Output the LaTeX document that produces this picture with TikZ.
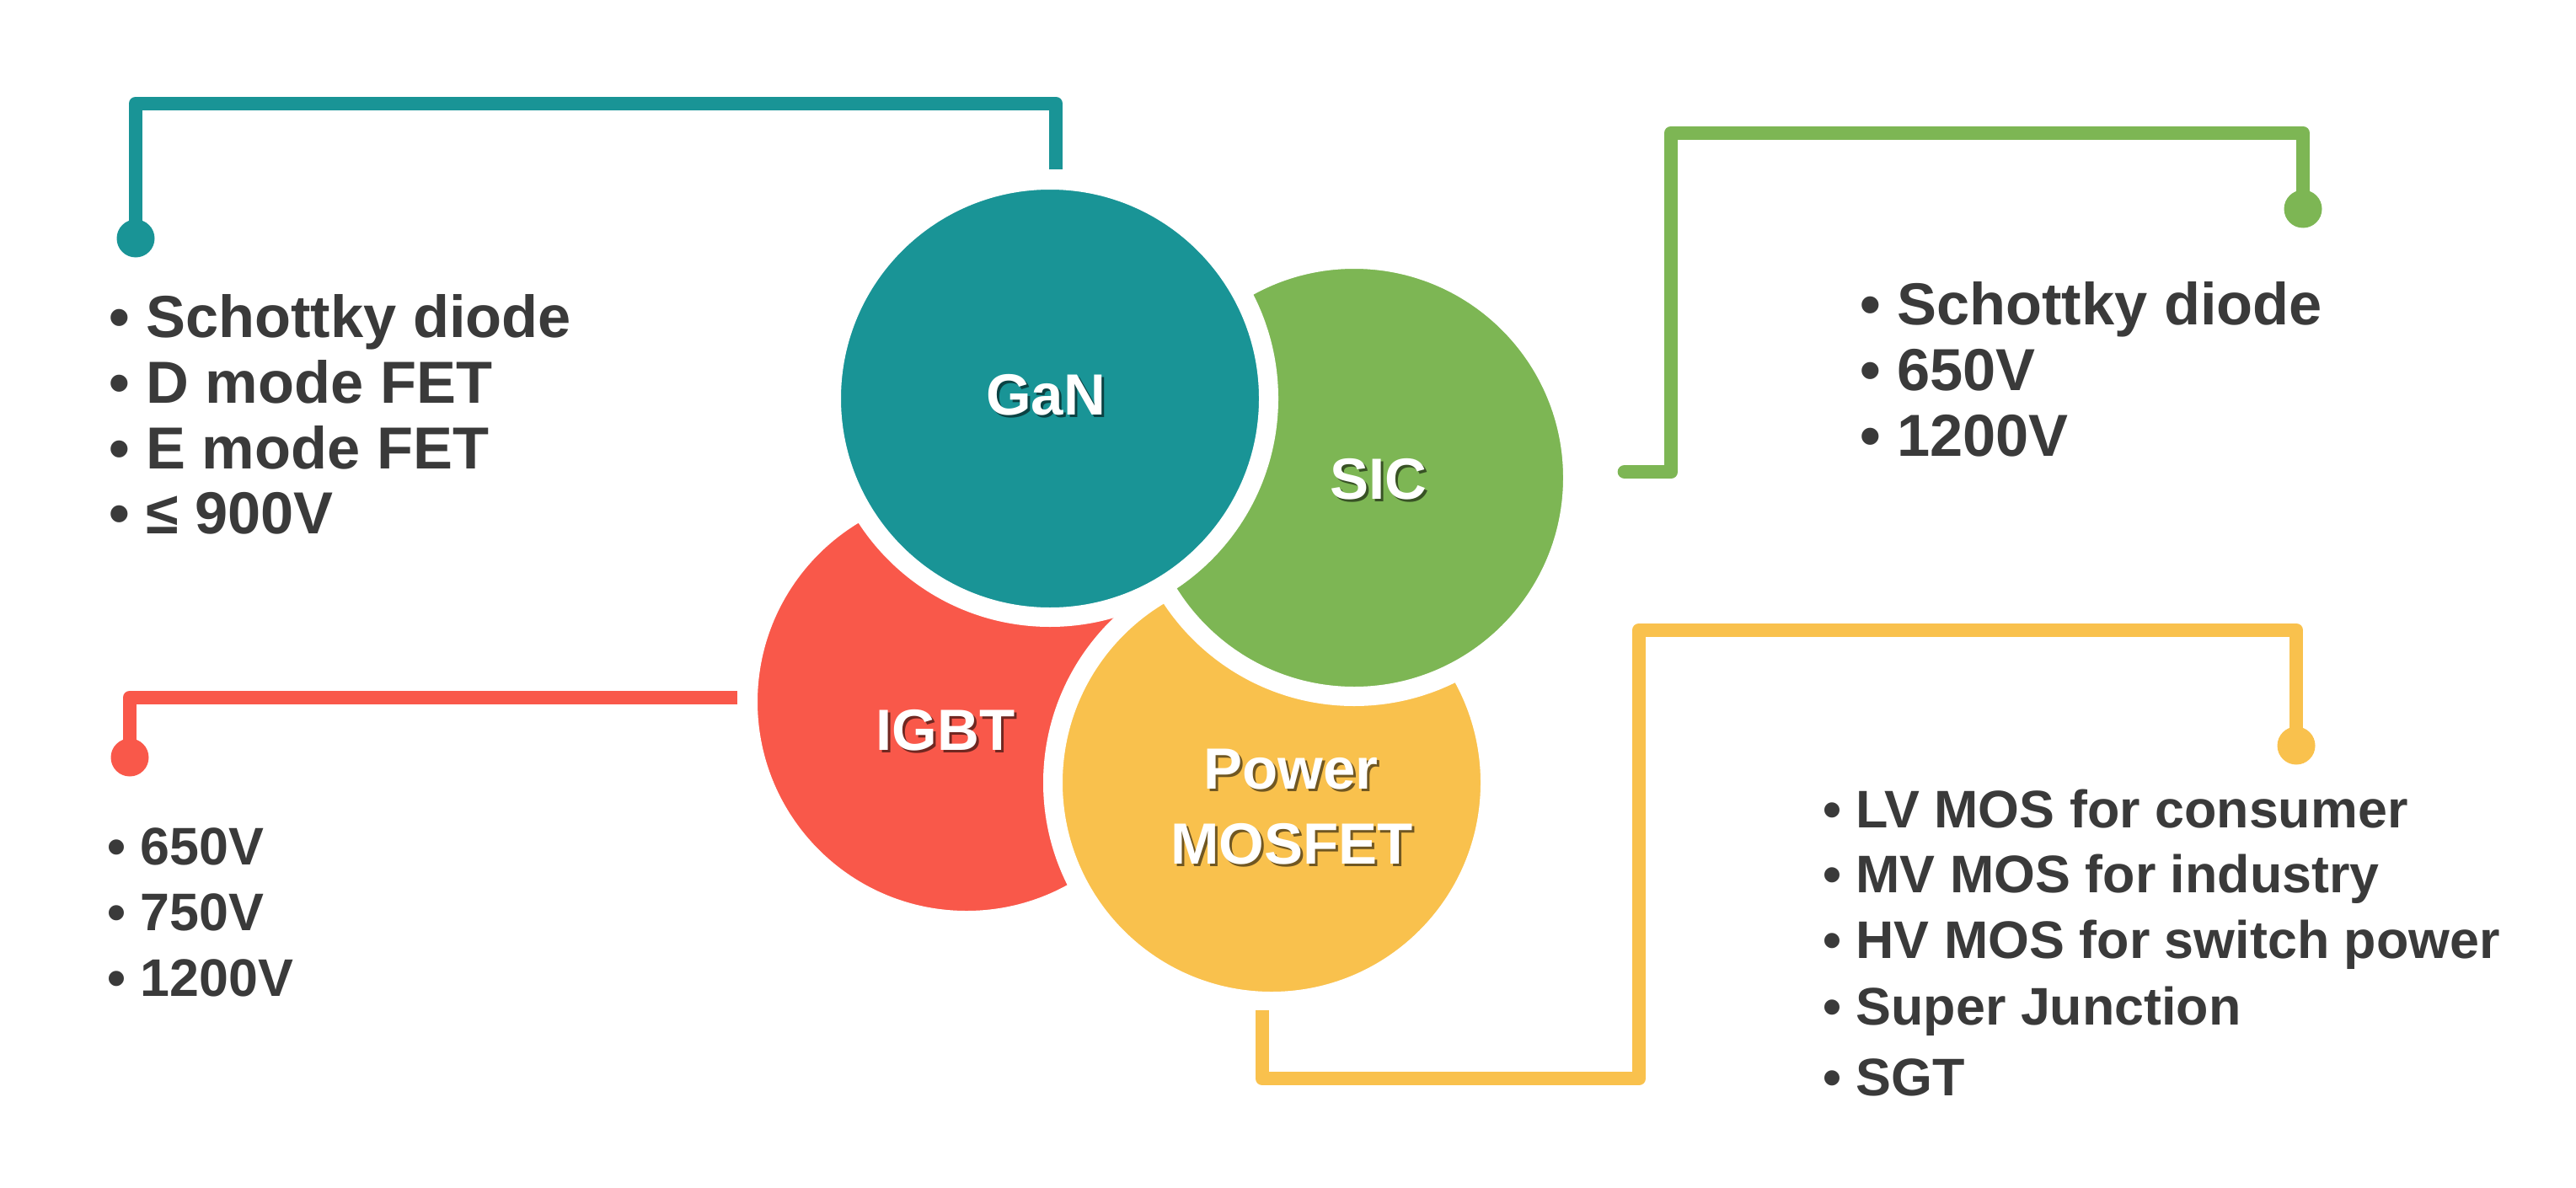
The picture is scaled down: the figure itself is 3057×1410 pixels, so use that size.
\documentclass[tikz,border=0pt]{standalone}
\usepackage{fontspec}
\setmainfont{Liberation Sans}
\definecolor{cteal}{RGB}{25,148,150}
\definecolor{cgrn}{RGB}{125,182,84}
\definecolor{cred}{RGB}{249,88,74}
\definecolor{cyel}{RGB}{249,193,77}
\definecolor{ctxt}{RGB}{58,58,58}
\begin{document}
\begin{tikzpicture}[x=1pt,y=-1pt,
  bub/.style={circle, inner sep=0pt, outer sep=0pt, minimum size=519pt, draw=white, line width=23pt},
  labfont/.style={font=\bfseries\fontsize{69}{80}\selectfont},
  lab/.style={labfont, text=white, anchor=base, inner sep=0pt},
  shd/.style={labfont, text=black, text opacity=0.55, anchor=base, inner sep=0pt},
  conn/.style={line width=16.7pt, line join=round},
  dotc/.style={circle, inner sep=0pt, outer sep=0pt, minimum size=45pt},
  itemL/.style={anchor=base west, inner sep=0pt, text=ctxt, font=\bfseries\fontsize{70.4}{80}\selectfont},
  itemS/.style={anchor=base west, inner sep=0pt, text=ctxt, font=\bfseries\fontsize{62.8}{72}\selectfont}]
\useasboundingbox (0,0) rectangle (3057,1410);

% bubbles (bottom to top)
\node[bub, fill=cred] (igbt) at (1147,833) {};
\node[bub, fill=cyel] (mos) at (1509,929) {};
\node[bub, fill=cgrn] (sic) at (1607,567) {};
\node[bub, fill=cteal] (gan) at (1246,473) {};

% labels with shadows
\node[shd] (ganS) at (1244,495) {GaN};
\node[lab] (ganL) at (1241,492) {GaN};
\node[shd] (sicS) at (1639,595) {SIC};
\node[lab] (sicL) at (1636,592) {SIC};
\node[shd] (igbtS) at (1125,893) {IGBT};
\node[lab] (igbtL) at (1122,890) {IGBT};
\node[shd] (powS) at (1535,939) {Power};
\node[lab] (powL) at (1532,936) {Power};
\node[shd] (mosS) at (1536,1028) {MOSFET};
\node[lab] (mosL) at (1533,1025) {MOSFET};

% connector dots
\node[dotc, fill=cteal] (tealdot) at (161,283) {};
\node[dotc, fill=cgrn] (grndot) at (2733,248) {};
\node[dotc, fill=cred] (reddot) at (154,899) {};
\node[dotc, fill=cyel] (yeldot) at (2725,885) {};

% connector free ends
\coordinate (tealA) at (1253,201);
\coordinate (grnA) at (1928,560);
\coordinate (redA) at (875,828);
\coordinate (yelA) at (1498,1199);

\draw[conn, cteal] (tealA) |- (161,123) -- (tealdot.center);
\draw[conn, cgrn, line cap=round] (grnA) -- (1983,560) |- (2733,158) -- (grndot.center);
\draw[conn, cred] (redA) -- (154,828) -- (reddot.center);
\draw[conn, cyel] (yelA) |- (1945,1280) |- (2725,748) -- (yeldot.center);

% GaN list
\node[itemL] (g1) at (129,400) {• Schottky diode};
\node[itemL] (g2) at (129,478) {• D mode FET};
\node[itemL] (g3) at (129,556) {• E mode FET};
\node[itemL] (g4) at (129,633) {• ≤ 900V};

% SIC list
\node[itemL] (s1) at (2207,385) {• Schottky diode};
\node[itemL] (s2) at (2207,463) {• 650V};
\node[itemL] (s3) at (2207,541) {• 1200V};

% IGBT list
\node[itemS] (i1) at (127,1026) {• 650V};
\node[itemS] (i2) at (127,1104) {• 750V};
\node[itemS] (i3) at (127,1182) {• 1200V};

% MOSFET list
\node[itemS] (m1) at (2163,982) {• LV MOS for consumer};
\node[itemS] (m2) at (2163,1059) {• MV MOS for industry};
\node[itemS] (m3) at (2163,1137) {• HV MOS for switch power};
\node[itemS] (m4) at (2163,1216) {• Super Junction};
\node[itemS] (m5) at (2163,1300) {• SGT};
\end{tikzpicture}
\end{document}
